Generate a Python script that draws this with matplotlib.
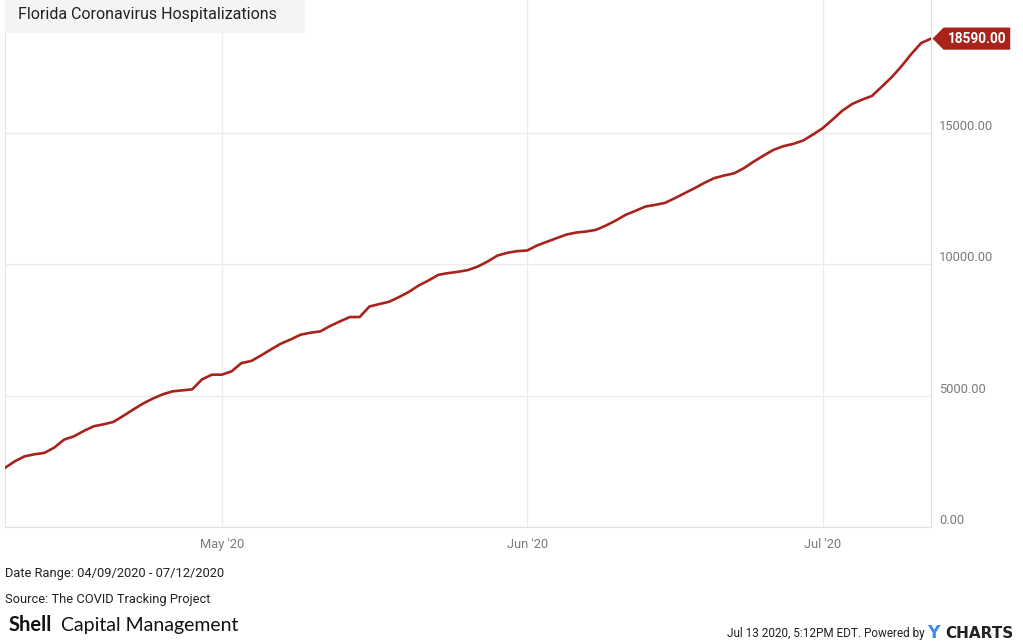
import numpy as np
import pandas as pd
import matplotlib
matplotlib.use("Agg")
import matplotlib.pyplot as plt
import matplotlib.dates as mdates
from matplotlib.ticker import FixedLocator, FuncFormatter
from matplotlib.patches import Rectangle
from matplotlib.path import Path

plt.rcParams['font.family'] = ['Roboto', 'DejaVu Sans']

# daily cumulative hospitalizations, 04/09/2020 - 07/12/2020
start_date = '2020-04-09'
hospitalized = [
    2251, 2502, 2692, 2768, 2821, 3023, 3327, 3452, 3657, 3833,
    3908, 4000, 4228, 4467, 4696, 4886, 5049, 5163, 5201, 5239,
    5620, 5798, 5798, 5924, 6240, 6319, 6532, 6760, 6977, 7140,
    7319, 7395, 7445, 7650, 7825, 7992, 7992, 8395, 8486, 8574,
    8752, 8950, 9194, 9384, 9600, 9665, 9715, 9780, 9916, 10106,
    10334, 10437, 10501, 10524, 10715, 10855, 10996, 11133, 11209, 11247,
    11312, 11475, 11665, 11882, 12034, 12197, 12262, 12338, 12517, 12707,
    12897, 13099, 13280, 13380, 13460, 13657, 13908, 14137, 14354, 14494,
    14582, 14707, 14935, 15179, 15506, 15848, 16103, 16266, 16407, 16760,
    17118, 17536, 18004, 18422, 18590,
]
dates = pd.date_range(start_date, periods=len(hospitalized), freq='D')

y_ticks = [0, 5000, 10000, 15000]
x_ticks = pd.to_datetime(['2020-05-01', '2020-06-01', '2020-07-01'])
x_labels = ["May '20", "Jun '20", "Jul '20"]

red = '#a8231c'
grid = '#ececec'
gray = '#7a7a7a'


def tag_box(x0, y0, width, height, mutation_size):
    # rectangle with a pointed left side, like a price tag
    pad = 0.3 * mutation_size
    x0, y0 = x0 - pad, y0 - pad
    x1, y1 = x0 + width + 2 * pad, y0 + height + 2 * pad
    ym = (y0 + y1) / 2
    tip = (y1 - y0) * 0.5
    verts = [(x0, y0), (x1, y0), (x1, y1), (x0, y1), (x0 - tip, ym), (x0, y0)]
    return Path(verts, closed=True)


W, H = 1023, 643
fig = plt.figure(figsize=(W / 100, H / 100), dpi=100)
ax = fig.add_axes([5 / W, 1 - 527 / H, 926 / W, 527 / H])

ax.plot(dates, hospitalized, color=red, lw=1.9, solid_joinstyle='round', zorder=3)

ax.set_xlim(dates[0], dates[-1])
ax.set_ylim(0, 20060)

ax.xaxis.set_major_locator(FixedLocator(mdates.date2num(x_ticks)))
ax.set_xticklabels(x_labels)
ax.yaxis.tick_right()
ax.yaxis.set_major_locator(FixedLocator(y_ticks))
ax.yaxis.set_major_formatter(FuncFormatter(lambda v, p: f'{v:.2f}'))
ax.tick_params(axis='both', length=0, labelsize=9.3, labelcolor=gray)
ax.tick_params(axis='x', pad=8)
ax.tick_params(axis='y', pad=6)
for lab in ax.get_yticklabels():
    lab.set_verticalalignment('bottom')

ax.grid(True, color=grid, lw=1)
for s in ['left', 'bottom', 'right']:
    ax.spines[s].set_color('#e2e2e2')
ax.spines['top'].set_visible(False)

# last value tag
ax.annotate(f'{hospitalized[-1]:.2f}', xy=(dates[-1], hospitalized[-1]),
            xytext=(12, 0), textcoords='offset points', ha='left', va='center',
            color='white', fontsize=9.8, fontweight='bold',
            bbox=dict(boxstyle=tag_box, fc=red, ec='none'),
            annotation_clip=False, zorder=5)

# title box
fig.patches.append(Rectangle((5 / W, 1 - 33 / H), 300 / W, 33 / H,
                             transform=fig.transFigure, fc='#f4f4f4', ec='none', zorder=0))
fig.text(18 / W, 1 - 15 / H, 'Florida Coronavirus Hospitalizations',
         fontsize=11.5, color='#222222', va='center', ha='left')

# footer
fig.text(5 / W, 1 - 574 / H, 'Date Range: 04/09/2020 - 07/12/2020',
         fontsize=9.3, color='#222222', va='center')
fig.text(5 / W, 1 - 600 / H, 'Source: The COVID Tracking Project',
         fontsize=9.3, color='#222222', va='center')
fig.text(9 / W, 1 - 625 / H, 'Shell', fontsize=14.5, fontweight='bold',
         family=['Lato', 'DejaVu Sans'], color='#111111', va='center')
fig.text(61 / W, 1 - 626 / H, 'Capital Management', fontsize=14,
         family=['Lato', 'DejaVu Sans'], color='#111111', va='center')

fig.text(925 / W, 1 - 633 / H, 'Jul 13 2020, 5:12PM EDT. Powered by',
         fontsize=8.5, color='#222222', va='center', ha='right')
fig.text(927 / W, 1 - 633 / H, 'Y', fontsize=12.5, fontweight='bold',
         family=['DejaVu Sans'], color='#3d8ee8', va='center', ha='left')
fig.text(945 / W, 1 - 633 / H, 'CHARTS', fontsize=11, fontweight='bold',
         family=['DejaVu Sans'], color='#222222', va='center', ha='left')

fig.savefig('out.png', dpi=100)
